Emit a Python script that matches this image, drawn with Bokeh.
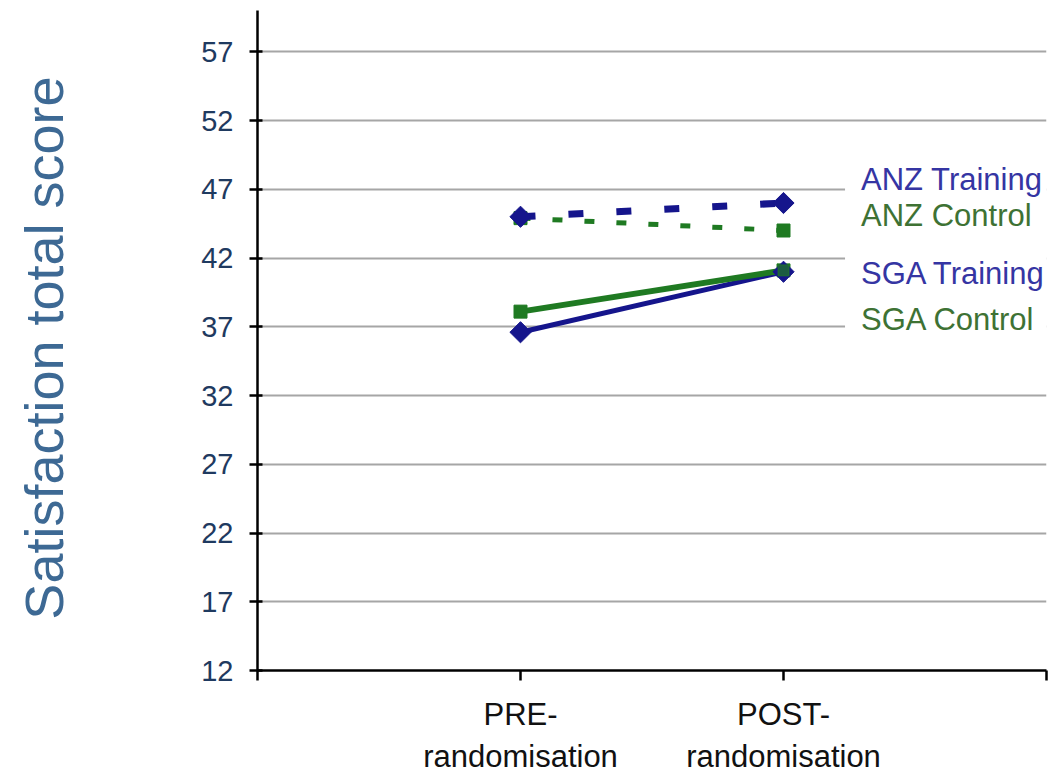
import numpy as np
from bokeh.plotting import figure
from bokeh.models import Range1d, FixedTicker, Label
from bokeh.embed import file_html
from bokeh.resources import INLINE

# ---- data ----
categories = ["PRE-\nrandomisation", "POST-\nrandomisation"]
anz_training = [45.0, 46.0]
anz_control = [44.9, 44.0]
sga_training = [36.6, 41.0]
sga_control = [38.1, 41.1]
series_names = ["ANZ Training", "ANZ Control", "SGA Training", "SGA Control"]
y_ticks = [12, 17, 22, 27, 32, 37, 42, 47, 52, 57]

# ---- styles ----
BLUE = "#15158c"
GREEN = "#1f7a22"
LBL_BLUE = "#3535a3"
LBL_GREEN = "#3e7234"
FONT = "Liberation Sans"

xs = list(range(1, len(categories) + 1))

p = figure(width=1054, height=776, output_backend="svg", toolbar_location=None,
           x_range=Range1d(0, len(categories) + 1), y_range=Range1d(12, 60),
           min_border_left=257, min_border_right=8, min_border_top=10,
           min_border_bottom=96)
p.outline_line_color = None
p.background_fill_color = "white"
p.border_fill_color = "white"

# grid
p.xgrid.grid_line_color = None
p.ygrid.grid_line_color = "#a6a6a6"
p.ygrid.grid_line_width = 2

# y axis
p.yaxis.ticker = FixedTicker(ticks=y_ticks)
p.yaxis.axis_line_color = "black"
p.yaxis.axis_line_width = 2.5
p.yaxis.major_tick_line_color = "black"
p.yaxis.major_tick_line_width = 2.5
p.yaxis.major_tick_in = 5
p.yaxis.major_tick_out = 8
p.yaxis.minor_tick_line_color = None
p.yaxis.major_label_text_font = FONT
p.yaxis.major_label_text_font_size = "29px"
p.yaxis.major_label_text_color = "#1f3a60"
p.yaxis.major_label_standoff = 16
p.yaxis.axis_label = "Satisfaction total  score"
p.yaxis.axis_label_text_font = FONT
p.yaxis.axis_label_text_font_size = "54px"
p.yaxis.axis_label_text_font_style = "normal"
p.yaxis.axis_label_text_color = "#3d6994"
p.yaxis.axis_label_standoff = 124

# x axis
p.xaxis.ticker = FixedTicker(ticks=[0] + xs + [len(categories) + 1])
overrides = {0: "", len(categories) + 1: ""}
for x, c in zip(xs, categories):
    overrides[x] = c
p.xaxis.major_label_overrides = overrides
p.xaxis.axis_line_color = "black"
p.xaxis.axis_line_width = 2.5
p.xaxis.major_tick_line_color = "black"
p.xaxis.major_tick_line_width = 2.5
p.xaxis.major_tick_in = 0
p.xaxis.major_tick_out = 10
p.xaxis.minor_tick_line_color = None
p.xaxis.major_label_text_font = FONT
p.xaxis.major_label_text_font_size = "31px"
p.xaxis.major_label_text_color = "#111111"
p.xaxis.major_label_standoff = 16

# lines
p.line(xs, anz_control, line_color=GREEN, line_width=5, line_dash="10 22")
p.line(xs, anz_training, line_color=BLUE, line_width=7, line_dash="15 33")
p.line(xs, sga_training, line_color=BLUE, line_width=5)
p.line(xs, sga_control, line_color=GREEN, line_width=6)

# markers
p.scatter(xs, anz_control, marker="square", size=13, fill_color=GREEN, line_color=GREEN)
p.scatter(xs, sga_control, marker="square", size=13, fill_color=GREEN, line_color=GREEN)
p.scatter(xs, anz_training, marker="square", angle=np.pi / 4, size=15,
          fill_color=BLUE, line_color=BLUE)
p.scatter(xs, sga_training, marker="square", angle=np.pi / 4, size=15,
          fill_color=BLUE, line_color=BLUE)
p.scatter(xs[-1:], sga_control[-1:], marker="square", size=11, fill_color=GREEN,
          line_color=GREEN, alpha=0.7)

# series labels
label_y = [47.7, 45.1, 40.9, 37.5]
label_colors = [LBL_BLUE, LBL_GREEN, LBL_BLUE, LBL_GREEN]
for name, ly, col in zip(series_names, label_y, label_colors):
    p.add_layout(Label(x=2.234, y=ly, text=name, text_color=col,
                       text_font=FONT, text_font_size="31px",
                       text_baseline="middle", text_align="left",
                       background_fill_color="white",
                       padding=dict(left=16, right=24, top=0, bottom=0)))

open("out.html", "w").write(file_html(p, INLINE))
